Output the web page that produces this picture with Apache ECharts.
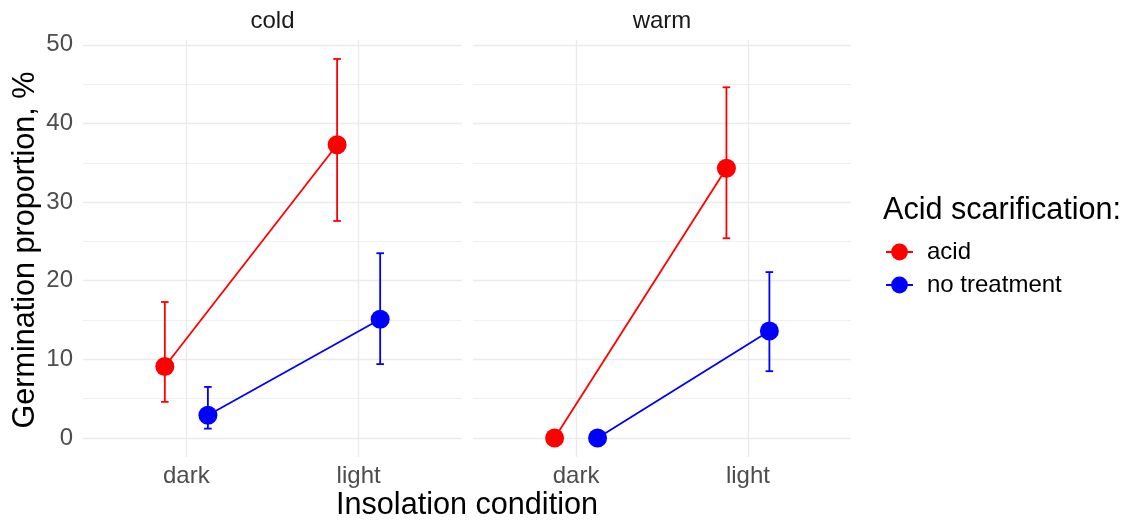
<!DOCTYPE html>
<html>
<head>
<meta charset="utf-8">
<script src="https://cdn.jsdelivr.net/npm/echarts@6/dist/echarts.min.js"></script>
<style>
  html, body { margin: 0; padding: 0; background: #fff; }
  #main { width: 1133px; height: 530px; }
</style>
</head>
<body>
<div id="main"></div>
<script>
// data
var conditions = ['dark', 'light'];
var panels = ['cold', 'warm'];

var acidCold = [9.1, 37.3];
var acidColdLo = [4.6, 27.6];
var acidColdHi = [17.3, 48.2];
var noneCold = [2.9, 15.1];
var noneColdLo = [1.2, 9.4];
var noneColdHi = [6.5, 23.5];

var acidWarm = [0, 34.3];
var acidWarmLo = [0, 25.4];
var acidWarmHi = [0, 44.6];
var noneWarm = [0, 13.6];
var noneWarmLo = [0, 8.5];
var noneWarmHi = [0, 21.1];

var yTicks = [0, 10, 20, 30, 40, 50];
var yMinor = [5, 15, 25, 35, 45];

var RED = '#ff0000';
var BLUE = '#0000ff';
var FONT = '"Liberation Sans", Arial, sans-serif';
var DODGE = 0.125;
var CAP = 0.022;
var LW = 1.8;

// x positions: category i -> i + 1, dodged left / right
function pts(vals, shift) {
    return vals.map(function (v, i) { return [i + 1 + shift, v]; });
}
function bars(lo, hi, shift) {
    var out = [];
    lo.forEach(function (l, i) {
        if (hi[i] > l) out.push([i + 1 + shift, l, hi[i]]);
    });
    return out;
}

function errorSeries(idx, data, color, name) {
    return {
        type: 'custom',
        name: name,
        xAxisIndex: idx,
        yAxisIndex: idx,
        z: 2,
        silent: true,
        animation: false,
        encode: { x: 0, y: [1, 2] },
        data: data,
        renderItem: function (params, api) {
            var x = api.value(0), lo = api.value(1), hi = api.value(2);
            var st = { stroke: color, lineWidth: LW };
            var t = api.coord([x, hi]), b = api.coord([x, lo]);
            var tl = api.coord([x - CAP, hi]), tr = api.coord([x + CAP, hi]);
            var bl = api.coord([x - CAP, lo]), br = api.coord([x + CAP, lo]);
            return {
                type: 'group',
                children: [
                    { type: 'line', shape: { x1: t[0], y1: t[1], x2: b[0], y2: b[1] }, style: st },
                    { type: 'line', shape: { x1: tl[0], y1: tl[1], x2: tr[0], y2: tr[1] }, style: st },
                    { type: 'line', shape: { x1: bl[0], y1: bl[1], x2: br[0], y2: br[1] }, style: st }
                ]
            };
        }
    };
}

function lineSeries(idx, data, color, name) {
    return {
        type: 'line',
        name: name,
        xAxisIndex: idx,
        yAxisIndex: idx,
        z: 3,
        data: data,
        symbol: 'circle',
        symbolSize: 19,
        animation: false,
        lineStyle: { color: color, width: LW },
        itemStyle: { color: color }
    };
}

// gridlines drawn as mark lines so they sit exactly on the data values
function gridSeries(idx) {
    var major = { color: '#ebebeb', width: 1.4, type: 'solid' };
    var minor = { color: '#ebebeb', width: 0.8, type: 'solid' };
    var lines = [];
    yTicks.forEach(function (v) { lines.push({ yAxis: v, lineStyle: major }); });
    yMinor.forEach(function (v) { lines.push({ yAxis: v, lineStyle: minor }); });
    conditions.forEach(function (c, i) { lines.push({ xAxis: i + 1, lineStyle: major }); });
    return {
        type: 'line',
        name: 'grid' + idx,
        xAxisIndex: idx,
        yAxisIndex: idx,
        data: [],
        z: 0,
        silent: true,
        animation: false,
        markLine: {
            z: 0,
            silent: true,
            animation: false,
            symbol: 'none',
            label: { show: false },
            emphasis: { disabled: true },
            data: lines
        }
    };
}

var grids = [
    { left: 83, top: 40, width: 379, height: 417 },
    { left: 473, top: 40, width: 378, height: 417 }
];

var xAxes = grids.map(function (g, i) {
    return {
        type: 'value',
        gridIndex: i,
        min: 0.4,
        max: 2.6,
        axisLine: { show: false },
        axisTick: { show: false },
        splitLine: { show: false },
        axisLabel: {
            customValues: [1, 2],
            margin: 7,
            fontSize: 24,
            fontFamily: FONT,
            color: '#4d4d4d',
            formatter: function (v) { return conditions[Math.round(v) - 1] || ''; }
        }
    };
});

var yAxes = grids.map(function (g, i) {
    return {
        type: 'value',
        gridIndex: i,
        min: -2.41,
        max: 50.61,
        axisLine: { show: false },
        axisTick: { show: false },
        splitLine: { show: false },
        axisLabel: {
            show: i === 0,
            customValues: yTicks,
            margin: 10,
            fontSize: 24,
            fontFamily: FONT,
            color: '#4d4d4d'
        }
    };
});

var chart = echarts.init(document.getElementById('main'));

var option = {
    backgroundColor: '#fff',
    animation: false,
    grid: grids,
    xAxis: xAxes,
    yAxis: yAxes,
    legend: {
        data: ['acid', 'no treatment'],
        orient: 'vertical',
        left: 885,
        top: 240,
        padding: 0,
        itemGap: 9,
        itemWidth: 27,
        itemHeight: 21,
        selectedMode: false,
        textStyle: { fontSize: 24, fontFamily: FONT, color: '#000', padding: [0, 0, 0, 9] }
    },
    graphic: [
        { type: 'text', x: 272.5, y: 21, style: { text: panels[0], font: '24px ' + FONT, fill: '#1a1a1a', align: 'center', verticalAlign: 'middle' } },
        { type: 'text', x: 662, y: 21, style: { text: panels[1], font: '24px ' + FONT, fill: '#1a1a1a', align: 'center', verticalAlign: 'middle' } },
        { type: 'text', x: 467, y: 506, style: { text: 'Insolation condition', font: '30.6px ' + FONT, fill: '#000', align: 'center', verticalAlign: 'middle' } },
        { type: 'text', x: 26, y: 250, rotation: Math.PI / 2, style: { text: 'Germination proportion, %', font: '30.6px ' + FONT, fill: '#000', align: 'center', verticalAlign: 'middle' } },
        { type: 'text', x: 883, y: 211, style: { text: 'Acid scarification:', font: '30.6px ' + FONT, fill: '#000', align: 'left', verticalAlign: 'middle' } }
    ],
    series: [
        gridSeries(0),
        gridSeries(1),
        lineSeries(0, pts(acidCold, -DODGE), RED, 'acid'),
        lineSeries(0, pts(noneCold, DODGE), BLUE, 'no treatment'),
        lineSeries(1, pts(acidWarm, -DODGE), RED, 'acid'),
        lineSeries(1, pts(noneWarm, DODGE), BLUE, 'no treatment'),
        errorSeries(0, bars(acidColdLo, acidColdHi, -DODGE), RED, 'acid error'),
        errorSeries(0, bars(noneColdLo, noneColdHi, DODGE), BLUE, 'no treatment error'),
        errorSeries(1, bars(acidWarmLo, acidWarmHi, -DODGE), RED, 'acid error'),
        errorSeries(1, bars(noneWarmLo, noneWarmHi, DODGE), BLUE, 'no treatment error')
    ]
};
chart.setOption(option);
</script>
</body>
</html>
